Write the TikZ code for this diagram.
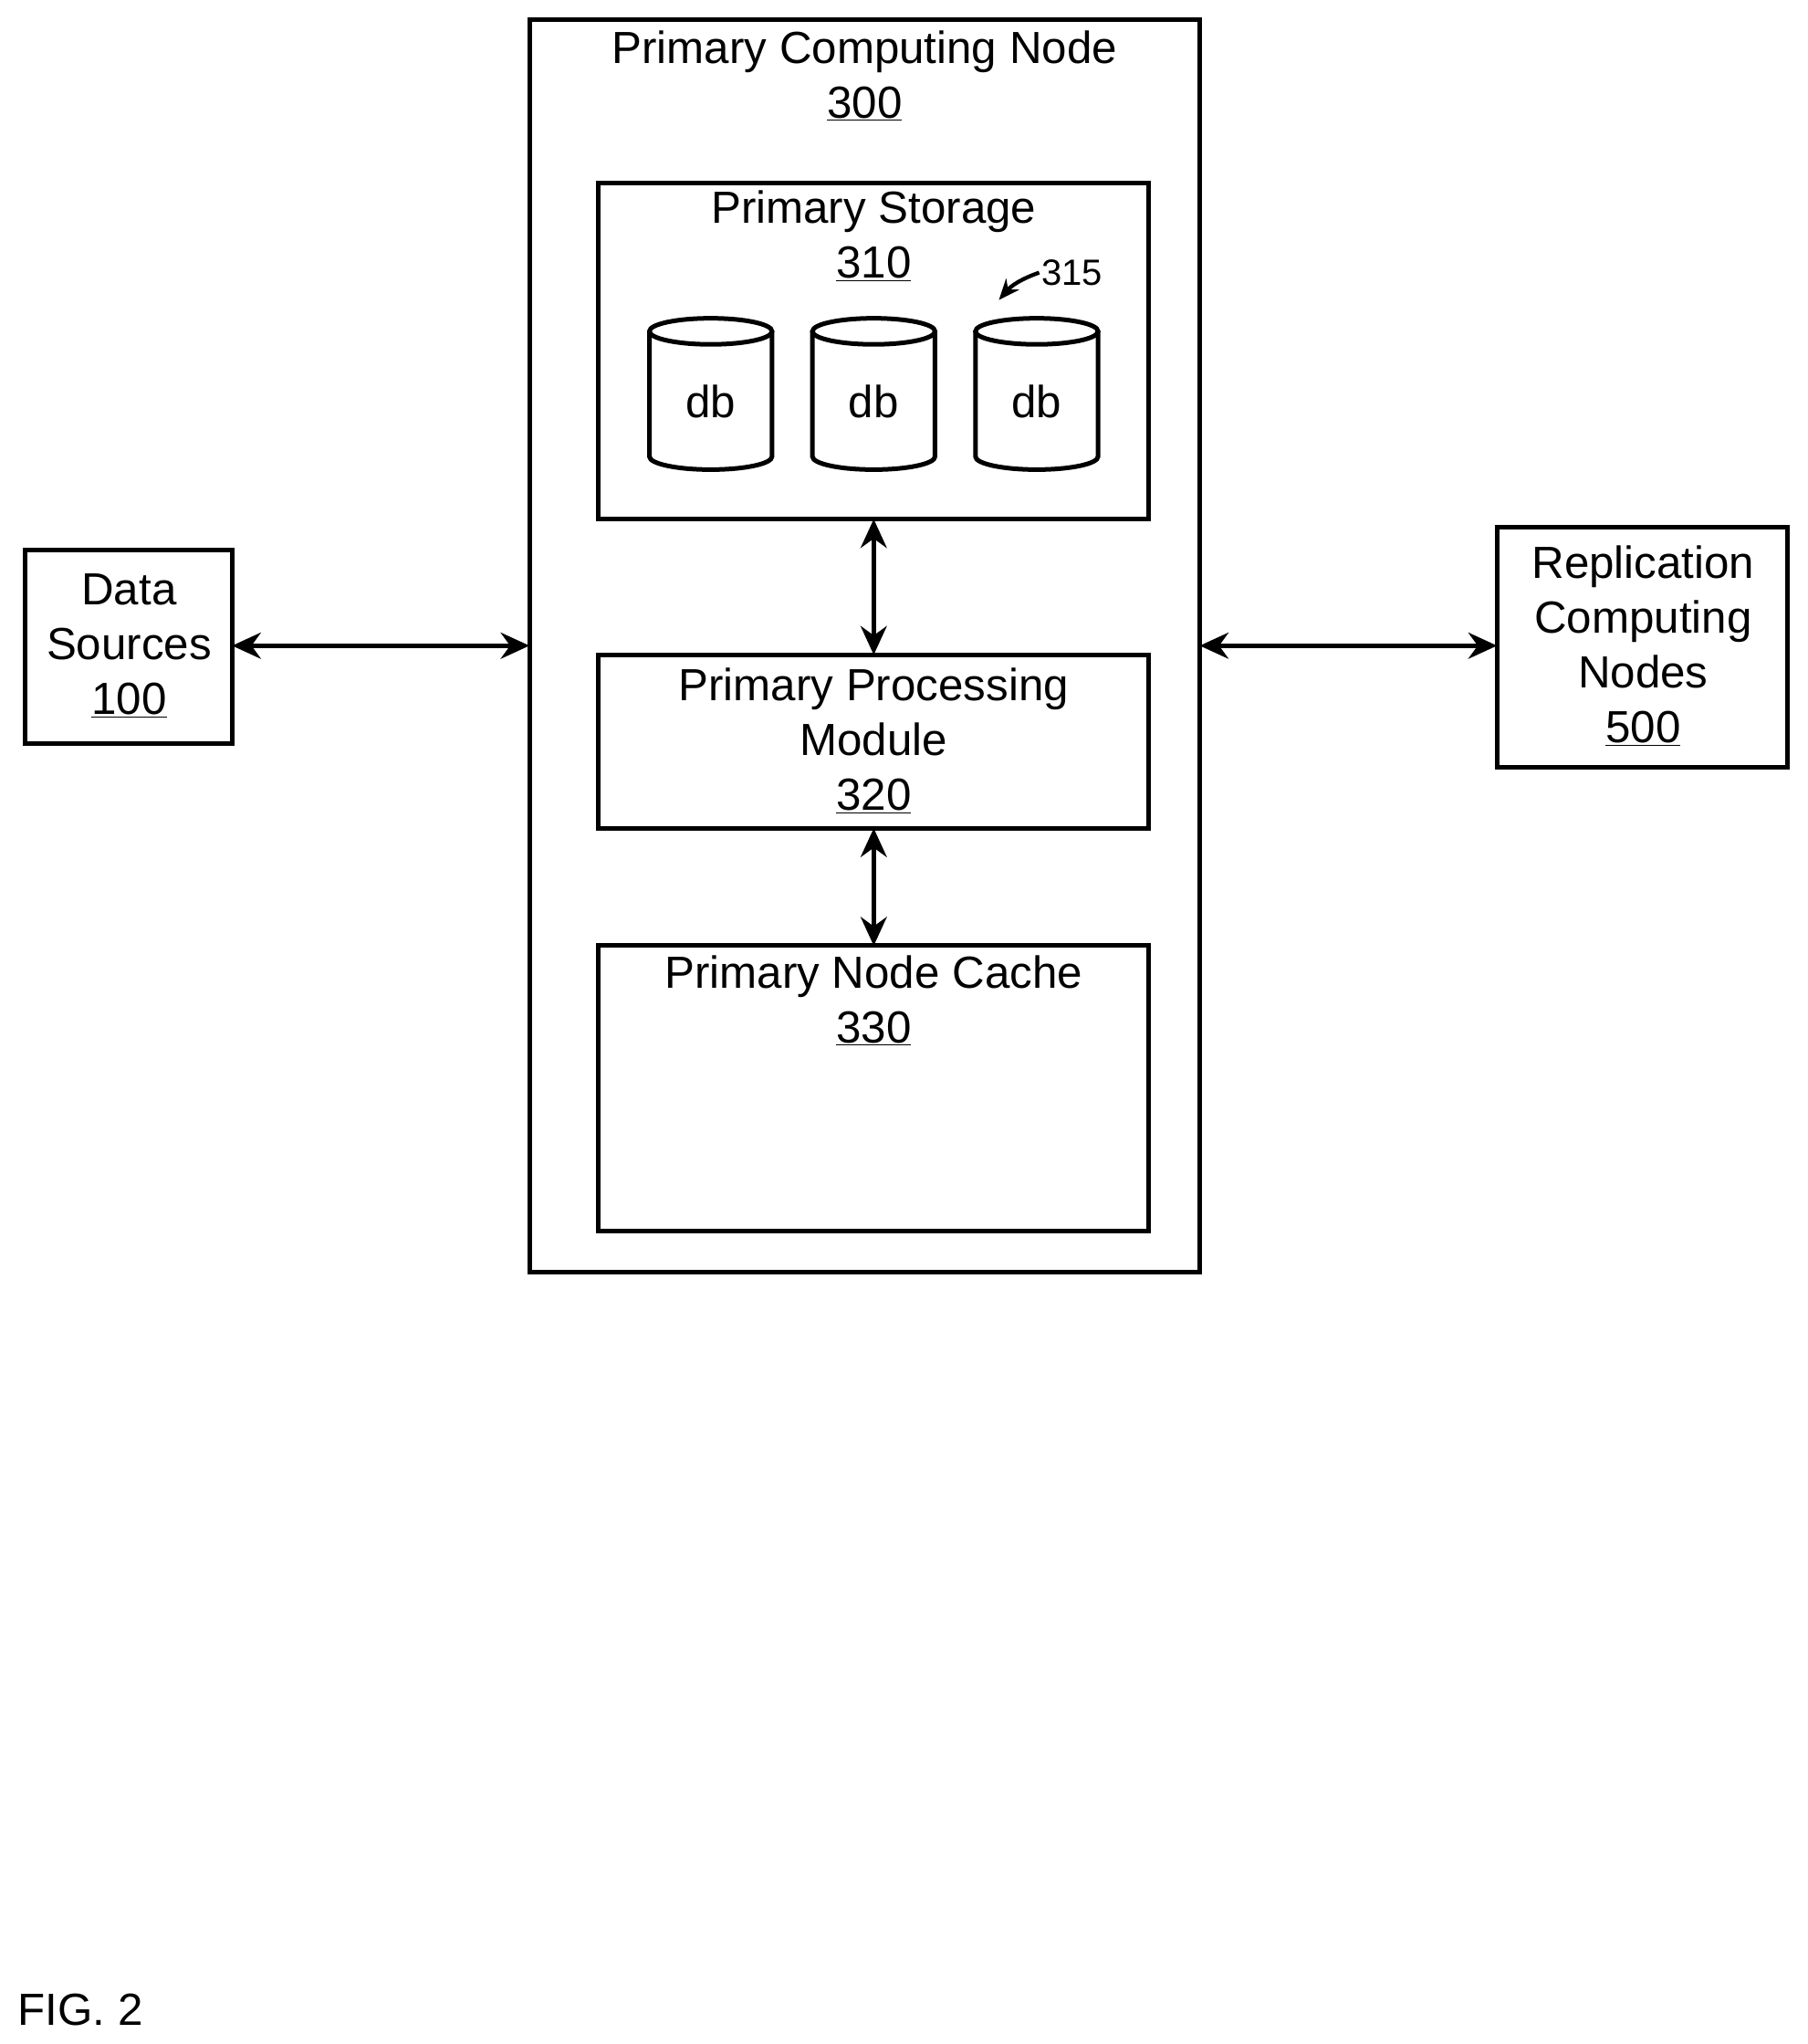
\documentclass[tikz,border=0pt]{standalone}
\usepackage{fontspec}
\setmainfont{Liberation Sans}
\usetikzlibrary{arrows.meta}
\begin{document}
\begin{tikzpicture}[x=1pt,y=-1pt,line width=3.5pt,
  box/.style={draw,line width=3.5pt},
  txt/.style={font=\fontsize{34.5}{42}\selectfont,align=center,inner sep=0pt},
  arr/.style={{Stealth[length=22pt,width=20pt]}-{Stealth[length=22pt,width=20pt]},line width=3.5pt}]
\useasboundingbox (0,0) rectangle (1386,1567);
\draw[box] (406,15) rectangle (920,975);
\node[txt] at (663,58) {Primary Computing Node\\\underline{300}};
\draw[box] (459,140) rectangle (881,398);
\node[txt] at (670,181) {Primary Storage\\\underline{310}};
\foreach \cx/\n in {545/a,670/b,795/c}{
  \draw[fill=white] (\cx-47,254) -- (\cx-47,350) arc[start angle=180,end angle=0,x radius=47,y radius=10] -- (\cx+47,254);
  \draw (\cx,254) ellipse[x radius=47,y radius=10];
  \node[txt] (db\n) at (\cx,308) {db};
}
\node[txt,font=\fontsize{28}{30}\selectfont] (l315) at (822,209) {315};
\draw[-{Stealth[length=16pt,width=13pt]},line width=3pt] (l315.west) to[bend right=15] (766,230);
\draw[box] (459,502) rectangle (881,635);
\node[txt] at (670,568) {Primary Processing\\Module\\\underline{320}};
\draw[box] (459,725) rectangle (881,944);
\node[txt] at (670,767) {Primary Node Cache\\\underline{330}};
\draw[box] (19,422) rectangle (178,570);
\node[txt] at (99,495) {Data\\Sources\\\underline{100}};
\draw[box] (1148,404) rectangle (1371,588);
\node[txt] at (1260,495) {Replication\\Computing\\Nodes\\\underline{500}};
\coordinate (ds) at (178,495); \coordinate (ol) at (406,495);
\coordinate (or) at (920,495); \coordinate (rp) at (1148,495);
\coordinate (sb) at (670,398); \coordinate (pt) at (670,502);
\coordinate (pb) at (670,635); \coordinate (ct) at (670,725);
\draw[arr] (ds) -- (ol);
\draw[arr] (or) -- (rp);
\draw[arr] (sb) -- (pt);
\draw[arr] (pb) -- (ct);
\node[txt,anchor=west] at (12,1541) {FIG. 2};
\end{tikzpicture}
\end{document}
